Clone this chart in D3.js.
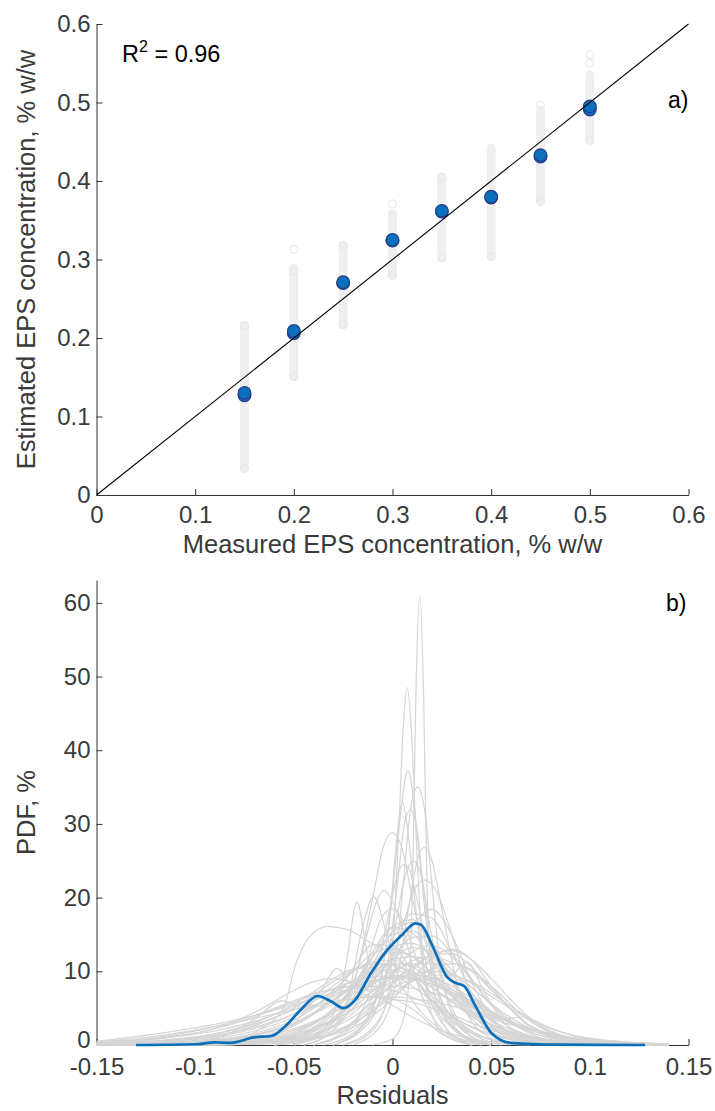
<!DOCTYPE html>
<html>
<head>
<meta charset="utf-8">
<script src="https://cdn.jsdelivr.net/npm/d3@7"></script>
<style>
  html, body { margin: 0; padding: 0; background: #fff; }
  svg { display: block; }
  text { font-family: "Liberation Sans", Arial, Helvetica, sans-serif; }
</style>
</head>
<body>
<svg id="chart" width="715" height="1111"></svg>
<script>
// ---------------- DATA ----------------
// Panel a)
const ticksA = [0, 0.1, 0.2, 0.3, 0.4, 0.5, 0.6];
const measured   = [0.15, 0.2, 0.25, 0.3, 0.35, 0.4, 0.45, 0.5];
const estimatedA = [0.127, 0.206, 0.270, 0.324, 0.361, 0.379, 0.431, 0.491];
const estimatedB = [0.130, 0.209, 0.271, 0.325, 0.362, 0.380, 0.433, 0.495];
const sampleLo   = [0.034, 0.151, 0.217, 0.280, 0.302, 0.304, 0.374, 0.452];
const sampleHi   = [0.216, 0.289, 0.318, 0.359, 0.405, 0.442, 0.490, 0.535];
const sampleOutX = [0.15, 0.15, 0.2, 0.2, 0.2, 0.25, 0.25, 0.3, 0.3, 0.35, 0.35, 0.4, 0.45, 0.45, 0.5, 0.5, 0.5];
const sampleOutY = [0.216, 0.034, 0.313, 0.285, 0.151, 0.318, 0.217, 0.371, 0.280, 0.405, 0.302, 0.304, 0.497, 0.374, 0.561, 0.550, 0.452];
const r2Text = "0.96";

// Panel b)
const ticksBx = [-0.15, -0.1, -0.05, 0, 0.05, 0.1, 0.15];
const ticksBy = [0, 10, 20, 30, 40, 50, 60];
const meanX = [-0.13, -0.1, -0.09, -0.082, -0.0703, -0.0614, -0.0545, -0.0466, -0.038, -0.031, -0.0249, -0.019, -0.011, -0.0032, 0.0047, 0.0116, 0.0145, 0.0205, 0.0274, 0.0323, 0.0363, 0.0422, 0.0502, 0.0599, 0.084, 0.128];
const meanY = [0, 0.1, 0.36, 0.3, 1.04, 1.22, 2.5, 4.75, 6.65, 5.9, 5.0, 6.1, 9.7, 12.7, 14.9, 16.5, 16.3, 13.3, 9.3, 8.4, 8.0, 5.2, 1.6, 0.3, 0.05, 0];

// Gray per-run PDFs on a common grid
const gridX = [-0.15, -0.12, -0.09, -0.07, -0.05, -0.04, -0.03, -0.02, -0.01, 0, 0.01, 0.02, 0.03, 0.04, 0.05, 0.07, 0.09, 0.12, 0.14];
const gridRows = [
  [0.2,0.6,1.5,2.8,4.8,6,7.2,8.2,8.8,9,8.9,8.3,7.2,5.8,4.3,2.2,1.0,0.35,0.1],
  [0.3,0.9,2.2,3.8,5.8,6.8,7.6,8,7.9,7.4,6.5,5.4,4.2,3.0,2.0,0.9,0.4,0.1,0],
  [0.05,0.2,0.6,1.3,2.8,4.2,6,8,10,11.5,12,11.3,9.5,7,4.6,1.7,0.6,0.15,0],
  [0.1,0.4,1.1,2.2,4.2,5.9,8,10,11,10.8,9.6,7.8,5.8,3.9,2.4,0.9,0.3,0.05,0],
  [0,0.1,0.3,0.8,1.8,3,5,7.8,11,13.4,13.8,12,8.8,5.6,3.2,1.0,0.3,0.05,0],
  [0,0.05,0.2,0.5,1.3,2.2,3.6,5.8,8.8,12,14.6,14.8,12.5,9,5.6,1.8,0.5,0.1,0],
  [0,0.1,0.4,1,2.2,3.2,4.4,5.8,7.3,8.6,9.6,10,9.6,8.4,6.6,3.4,1.4,0.4,0.1],
  [0.05,0.2,0.7,1.6,3.4,5,7.4,10,12.4,13,12,9.6,6.6,4,2.2,0.6,0.15,0,0],
  [0,0,0.1,0.3,0.9,1.8,3.6,7,12,16,17,14,9,4.8,2.2,0.5,0.1,0,0],
  [0,0,0.05,0.2,0.6,1.2,2.6,5,9.4,14.4,17.8,17.2,12.6,7.2,3.4,0.7,0.1,0,0],
  [0.3,1,2.5,4,6,7,7.5,7.2,6.6,6.2,5.8,5,3.8,2.5,1.5,0.5,0.15,0,0],
  [0,0.05,0.2,0.6,1.5,2.3,3.4,4.8,6.4,7.8,8.9,9.5,9.4,8.6,7,3.6,1.4,0.3,0.05],
  [0,0.05,0.2,0.5,1.2,2,3.2,5,7.4,9.6,11.4,12,11.2,10,7.5,2.6,0.8,0.1,0],
  [0.1,0.5,1.5,3,5.5,7.2,9,10.3,10.5,9.6,8,6,4,2.4,1.3,0.4,0.1,0,0],
  [0.4,1.2,2.5,3.6,4.8,5.4,5.9,6.3,6.5,6.5,6.3,5.9,5.3,4.5,3.6,2.0,1.0,0.3,0.05],
  [0,0,0.1,0.4,1.1,2.2,4.2,7.8,12.6,16,15.2,11.4,7,3.6,1.6,0.3,0.05,0,0],
  [0,0,0.1,0.3,0.8,1.5,2.6,4.3,6.8,9.8,12.6,13.5,12,8.8,5.4,1.5,0.3,0,0],
  [0,0,0.05,0.2,0.6,1.1,1.9,3,4.6,6.6,8.6,10.3,11,10.2,8,3.2,0.8,0.1,0],
  [0.5,1.5,2.8,4,5.5,6.3,7,7.6,8,8,7.7,7.1,6.2,5.1,4,2.2,1.1,0.35,0.1],
  [0,0.1,0.4,1.0,2.6,4.2,6.8,10.4,13.6,13.4,10,6,3.2,1.6,0.7,0.15,0,0,0],
  [0.2,0.8,2.2,4.4,7.4,8.6,9,8.4,7,5.4,3.8,2.5,1.5,0.8,0.4,0.1,0,0,0],
  [0,0,0.05,0.2,0.5,0.9,1.6,2.8,4.8,7.4,10.2,12.2,12.4,10.6,7.6,2.5,0.5,0.05,0],
  [0,0,0.1,0.4,1.2,2.4,4.6,8,12,15,15.5,13,9,5.2,2.6,0.6,0.1,0,0],
  [0.1,0.4,1.2,2.6,5,6.8,8.6,10.2,11.3,11.5,10.6,8.8,6.6,4.5,2.8,1.0,0.3,0.05,0],
  [0.05,0.2,0.6,1.4,3,4.2,5.6,7,8.4,9.3,9.5,9.1,8,6.4,4.6,2,0.7,0.15,0],
  [0,0,0,0.1,0.4,0.8,1.6,3.2,6.4,11,16,18.4,15,8.6,3.8,0.6,0.1,0,0],
  [0,0,0.05,0.2,0.5,0.8,1.4,2.4,4,6.2,9,11.8,13,11.6,8,2.4,0.5,0.05,0],
  [0,0,0.1,0.3,1,1.9,3.4,5.6,8.6,11.6,13.2,12.6,10.2,7,4.2,1.2,0.3,0.05,0],
  [0.1,0.3,0.9,1.9,3.8,5.2,7,8.8,10,10.2,9.4,7.8,6,4.2,2.8,1.1,0.4,0.1,0],
  [0,0.05,0.3,0.8,2,3,4.4,6.2,8.2,10,11,11,9.8,7.8,5.6,2.2,0.7,0.1,0],
  [0.15,0.5,1.3,2.4,4.2,5.3,6.6,7.8,8.7,9.2,9.2,8.6,7.5,6,4.5,2.2,0.9,0.2,0],
  [0,0,0.05,0.2,0.7,1.5,3.2,6.4,11,15.4,16.6,13.6,8.6,4.4,1.8,0.3,0.05,0,0],
  [0,0.1,0.5,1.3,3,4.4,6.2,8.2,10,11,10.8,9.6,7.6,5.4,3.4,1.2,0.4,0.1,0],
  [0.25,0.8,1.9,3.2,5.2,6.4,7.6,8.6,9.2,9.4,9,8.2,7,5.6,4.2,2.1,0.9,0.25,0.05],
  [0,0,0.1,0.3,0.8,1.4,2.4,3.8,5.8,8.2,10.6,12.3,12.8,11.6,9,3.6,1,0.15,0],
  [0,0.05,0.2,0.6,1.6,2.8,4.8,7.6,10.8,12.6,12,9.8,7,4.6,2.8,0.9,0.25,0.05,0]
];
// Gray per-run PDFs with their own sample points (narrow / irregular ones)
const pointCurves = [
  [[-0.01,0],[0,0.8],[0.005,3],[0.0085,9],[0.0103,24],[0.0118,47],[0.0138,61],[0.0158,47],[0.0173,24],[0.0195,10],[0.024,4],[0.032,1],[0.045,0]],
  [[-0.025,0],[-0.012,1.5],[-0.004,5],[0,13],[0.0033,30],[0.0054,43],[0.0074,48.5],[0.0095,43],[0.0117,30],[0.0148,14],[0.019,5],[0.026,1.5],[0.04,0]],
  [[-0.035,0],[-0.018,2],[-0.007,8],[-0.001,18],[0.0035,30],[0.0078,37.3],[0.012,30],[0.0165,18],[0.022,8],[0.032,2],[0.05,0]],
  [[-0.025,0],[-0.008,3],[0.001,10],[0.0055,22],[0.0092,32],[0.0127,35],[0.0162,32],[0.0199,22],[0.0245,10],[0.033,3],[0.05,0]],
  [[-0.03,0],[-0.014,3],[-0.005,10],[-0.0005,20],[0.0025,29],[0.005,33],[0.0078,29],[0.0112,20],[0.016,10],[0.025,3],[0.04,0]],
  [[-0.05,0],[-0.03,3],[-0.018,10],[-0.01,20],[-0.0045,27],[0,28.8],[0.0045,27],[0.01,20],[0.018,10],[0.028,3],[0.045,0]],
  [[-0.02,0],[-0.005,3],[0.003,10],[0.009,20],[0.013,25.5],[0.016,26.8],[0.02,25],[0.026,17],[0.033,8],[0.042,2.5],[0.06,0]],
  [[-0.04,0],[-0.02,2.5],[-0.005,8],[0.005,16],[0.011,21],[0.016,22.4],[0.022,21],[0.03,15],[0.038,8],[0.05,2.5],[0.07,0]],
  [[-0.05,0],[-0.03,2.5],[-0.02,8],[-0.013,15],[-0.008,19.5],[-0.0044,21],[0,19.5],[0.006,15],[0.013,8],[0.024,2.5],[0.04,0]],
  [[-0.045,0],[-0.03,2],[-0.022,7],[-0.016,15],[-0.0096,20.1],[-0.003,15],[0.003,9],[0.01,6],[0.02,3],[0.035,0.8],[0.05,0]],
  [[-0.06,0],[-0.04,1],[-0.03,4],[-0.0235,11],[-0.018,19.4],[-0.0125,12],[-0.006,7],[0.003,6],[0.012,4.5],[0.025,1.5],[0.04,0]],
  [[-0.12,0],[-0.085,0.5],[-0.068,2],[-0.055,5.2],[-0.049,11],[-0.042,14.7],[-0.033,16.1],[-0.022,15.6],[-0.012,14],[0.002,12],[0.014,8],[0.024,4],[0.035,1.5],[0.05,0.3],[0.07,0]],
  [[-0.03,0],[-0.012,3],[-0.002,12],[0.003,23],[0.006,30],[0.009,31.9],[0.012,30],[0.015,23],[0.02,12],[0.03,3],[0.045,0]],
  [[-0.04,0],[-0.02,3],[-0.008,10],[-0.001,19],[0.003,23.5],[0.006,24.5],[0.009,23.5],[0.013,19],[0.02,10],[0.032,3],[0.05,0]],
  [[-0.06,0],[-0.04,0.8],[-0.02,3],[-0.005,7],[0.008,10],[0.02,9],[0.03,9.5],[0.038,11.3],[0.045,8],[0.055,3.5],[0.07,0.8],[0.09,0.1],[0.11,0]],
  [[-0.09,0],[-0.07,0.8],[-0.05,3],[-0.037,7],[-0.028,10.4],[-0.02,8],[-0.01,7.5],[0,9],[0.01,9.4],[0.02,7],[0.03,4],[0.045,1.2],[0.06,0.2],[0.08,0]],
  [[-0.12,0],[-0.09,0.8],[-0.07,3.5],[-0.056,6],[-0.045,5],[-0.03,6],[-0.015,9],[-0.005,11],[0.005,10.5],[0.02,6],[0.035,2.5],[0.05,0.8],[0.07,0.1],[0.09,0]],
  [[-0.04,0],[-0.02,2],[0,7],[0.015,9],[0.03,7],[0.045,4.5],[0.055,3.5],[0.066,3.8],[0.075,2.5],[0.09,0.8],[0.11,0.15],[0.13,0]],
  [[-0.03,0],[-0.015,2.5],[-0.004,8],[0.002,17],[0.0065,23],[0.0105,25],[0.0145,23],[0.019,16],[0.026,8],[0.036,2.5],[0.055,0]],
  [[-0.045,0],[-0.03,2],[-0.02,6],[-0.012,12],[-0.006,17],[0,18.5],[0.006,16.5],[0.013,11],[0.022,5.5],[0.035,1.5],[0.05,0]]
];

// ---------------- DRAWING ----------------
const svg = d3.select("#chart");
const axisColor = "#333333";
const textColor = "#3a3a3a";
const tickFont = 24, labelFont = 25.5;

function styleAxis(g) {
  g.selectAll("path.domain").attr("stroke", axisColor).attr("stroke-width", 1);
  g.selectAll(".tick line").attr("stroke", axisColor).attr("stroke-width", 1);
  g.selectAll(".tick text").attr("fill", textColor)
    .style("font-family", '"Liberation Sans", Arial, sans-serif')
    .style("font-size", tickFont + "px");
}

// ---------- Panel a ----------
const xA = d3.scaleLinear().domain([0, 0.6]).range([96.5, 688.5]);
const yA = d3.scaleLinear().domain([0, 0.6]).range([495, 24]);
const fmtA = d => d === 0 ? "0" : d3.format(".1f")(d);

const gA = svg.append("g");
gA.append("g").attr("transform", `translate(0,${yA(0)})`)
  .call(d3.axisBottom(xA).tickValues(ticksA).tickFormat(fmtA).tickSize(-6).tickSizeOuter(0).tickPadding(11))
  .call(styleAxis);
gA.append("g").attr("transform", `translate(${xA(0)},0)`)
  .call(d3.axisLeft(yA).tickValues(ticksA).tickFormat(fmtA).tickSize(-6).tickSizeOuter(0).tickPadding(6))
  .call(styleAxis);

// sample streaks
gA.append("g").selectAll("line").data(measured).join("line")
  .attr("x1", d => xA(d)).attr("x2", d => xA(d))
  .attr("y1", (d, i) => yA(sampleLo[i])).attr("y2", (d, i) => yA(sampleHi[i]))
  .attr("stroke", "#efefef").attr("stroke-width", 9).attr("stroke-linecap", "round");
gA.append("g").selectAll("circle").data(sampleOutX).join("circle")
  .attr("cx", d => xA(d)).attr("cy", (d, i) => yA(sampleOutY[i])).attr("r", 4)
  .attr("fill", "none").attr("stroke", "#e6e6e6").attr("stroke-width", 1);

// mean estimates
[estimatedA, estimatedB].forEach(est => {
  gA.append("g").selectAll("circle").data(measured).join("circle")
    .attr("cx", d => xA(d)).attr("cy", (d, i) => yA(est[i])).attr("r", 6.3)
    .attr("fill", "#0a6fbd").attr("stroke", "#253f8c").attr("stroke-width", 1.3);
});

// 1:1 line
gA.append("line")
  .attr("x1", xA(0)).attr("y1", yA(0)).attr("x2", xA(0.6)).attr("y2", yA(0.6))
  .attr("stroke", "#000").attr("stroke-width", 1.1);

// texts
const r2 = gA.append("text").attr("x", 122).attr("y", 62).attr("fill", "#000").style("font-size", "23.5px");
r2.append("tspan").text("R");
r2.append("tspan").attr("dy", -10).style("font-size", "16px").text("2");
r2.append("tspan").attr("dy", 10).text(" = " + r2Text);
gA.append("text").attr("x", 668).attr("y", 108).attr("fill", "#000").style("font-size", "23px").text("a)");

gA.append("text").attr("x", (xA(0) + xA(0.6)) / 2).attr("y", 553).attr("text-anchor", "middle")
  .attr("fill", textColor).style("font-size", labelFont + "px").text("Measured EPS concentration, % w/w");
gA.append("text").attr("transform", `translate(35,${(yA(0) + yA(0.6)) / 2}) rotate(-90)`).attr("text-anchor", "middle")
  .attr("fill", textColor).style("font-size", labelFont + "px").text("Estimated EPS concentration, % w/w");

// ---------- Panel b ----------
const xB = d3.scaleLinear().domain([-0.15, 0.15]).range([96.5, 688.5]);
const yB = d3.scaleLinear().domain([0, 63.1]).range([1045, 580]);
const fmtB = d => String(+d.toFixed(2));

const gB = svg.append("g");
gB.append("g").attr("transform", `translate(0,${yB(0)})`)
  .call(d3.axisBottom(xB).tickValues(ticksBx).tickFormat(fmtB).tickSize(-6).tickSizeOuter(0).tickPadding(13))
  .call(styleAxis);
const yAxisB = gB.append("g").attr("transform", `translate(${xB(-0.15)},0)`)
  .call(d3.axisLeft(yB).tickValues(ticksBy).tickSize(-6).tickSizeOuter(0).tickPadding(6))
  .call(styleAxis);
// lift the "0" label slightly so it clears the x tick labels below it
yAxisB.selectAll(".tick text").filter(d => d === 0).attr("dy", "0.12em");

const lineB = d3.line().x(d => xB(d[0])).y(d => yB(d[1])).curve(d3.curveMonotoneX);
const grayCurves = gridRows.map(row => gridX.map((x, i) => [x, row[i]])).concat(pointCurves);
gB.append("g").selectAll("path").data(grayCurves).join("path")
  .attr("d", lineB).attr("fill", "none").attr("stroke", "#d5d5d5").attr("stroke-width", 1.2);

gB.append("path").datum(meanX.map((x, i) => [x, meanY[i]]))
  .attr("d", lineB).attr("fill", "none").attr("stroke", "#0b6fba").attr("stroke-width", 2.7);

gB.append("text").attr("x", 666).attr("y", 611).attr("fill", "#000").style("font-size", "23px").text("b)");
gB.append("text").attr("x", (xB(-0.15) + xB(0.15)) / 2).attr("y", 1104).attr("text-anchor", "middle")
  .attr("fill", textColor).style("font-size", labelFont + "px").text("Residuals");
gB.append("text").attr("transform", `translate(35,${(yB(0) + yB(63.1)) / 2}) rotate(-90)`).attr("text-anchor", "middle")
  .attr("fill", textColor).style("font-size", labelFont + "px").text("PDF, %");
</script>
</body>
</html>
